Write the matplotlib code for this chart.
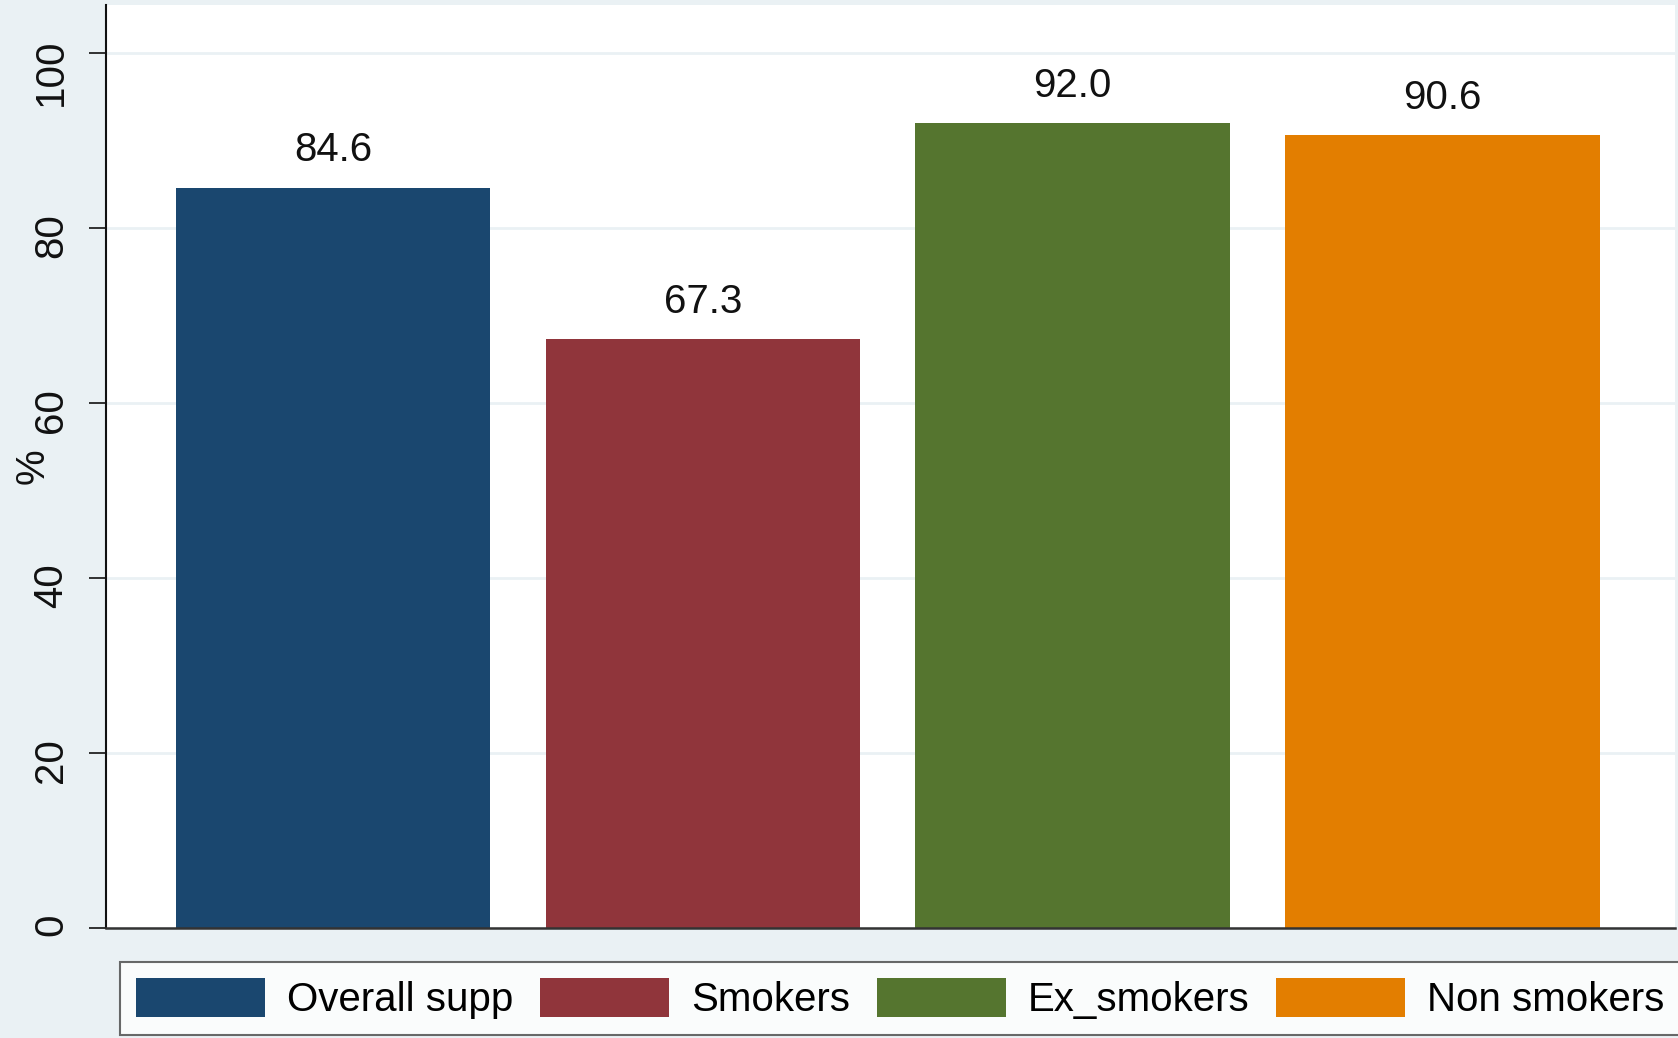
import matplotlib
matplotlib.use("Agg")
import matplotlib.pyplot as plt

# Data
groups = ["Overall supp", "Smokers", "Ex_smokers", "Non smokers"]
values = [84.6, 67.3, 92.0, 90.6]
colors = ["#1A476F", "#90353B", "#55752F", "#E37E00"]
yticks = [0, 20, 40, 60, 80, 100]

plt.rcParams["font.family"] = ["Liberation Sans", "DejaVu Sans"]

W, H = 1678, 1038
bg = "#EAF1F4"
fig = plt.figure(figsize=(W / 100, H / 100), dpi=100, facecolor=bg)
ax = fig.add_axes([106 / W, 1 - 928 / H, (1675 - 106) / W, (928 - 5) / H])
ax.set_facecolor("white")

x = range(len(groups))
bars = ax.bar(x, values, width=0.85, color=colors, label=groups, zorder=3)
for xi, v in zip(x, values):
    ax.annotate(f"{v:.1f}", (xi, v), xytext=(0, 27), textcoords="offset points",
                ha="center", va="center", fontsize=29, color="#111111")

ax.set_xlim(-0.614, 3.629)
ax.set_ylim(0, 105.5)
ax.set_xticks([])
ax.set_yticks(yticks)
ax.tick_params(axis="y", labelrotation=90, labelsize=29, length=12, width=1.3,
               pad=14, color="#222222", labelcolor="#111111")
ax.yaxis.grid(True, color="#EAF1F4", linewidth=2, zorder=0)

for s in ["top", "right"]:
    ax.spines[s].set_visible(False)
ax.spines["left"].set_linewidth(1.5)
ax.spines["left"].set_color("#111111")
ax.spines["bottom"].set_linewidth(1.8)
ax.spines["bottom"].set_color("#333333")
ax.spines["bottom"].set_zorder(4)

ax.set_ylabel("%", fontsize=29, color="#111111", va="center")
ax.yaxis.set_label_coords(-0.047, 0.5)

leg = fig.legend(handles=bars, labels=groups, ncol=4, loc="lower left",
                 bbox_to_anchor=(120 / W, 1 - 1035 / H), bbox_transform=fig.transFigure,
                 fontsize=29, frameon=True, fancybox=False, borderaxespad=0,
                 handlelength=3.2, handleheight=1.12, handletextpad=0.55,
                 columnspacing=0.66, borderpad=0.4)
leg.get_frame().set_edgecolor("#444444")
leg.get_frame().set_linewidth(1.5)
leg.get_frame().set_facecolor("white")

fig.savefig("out.png", dpi=100, facecolor=bg)
